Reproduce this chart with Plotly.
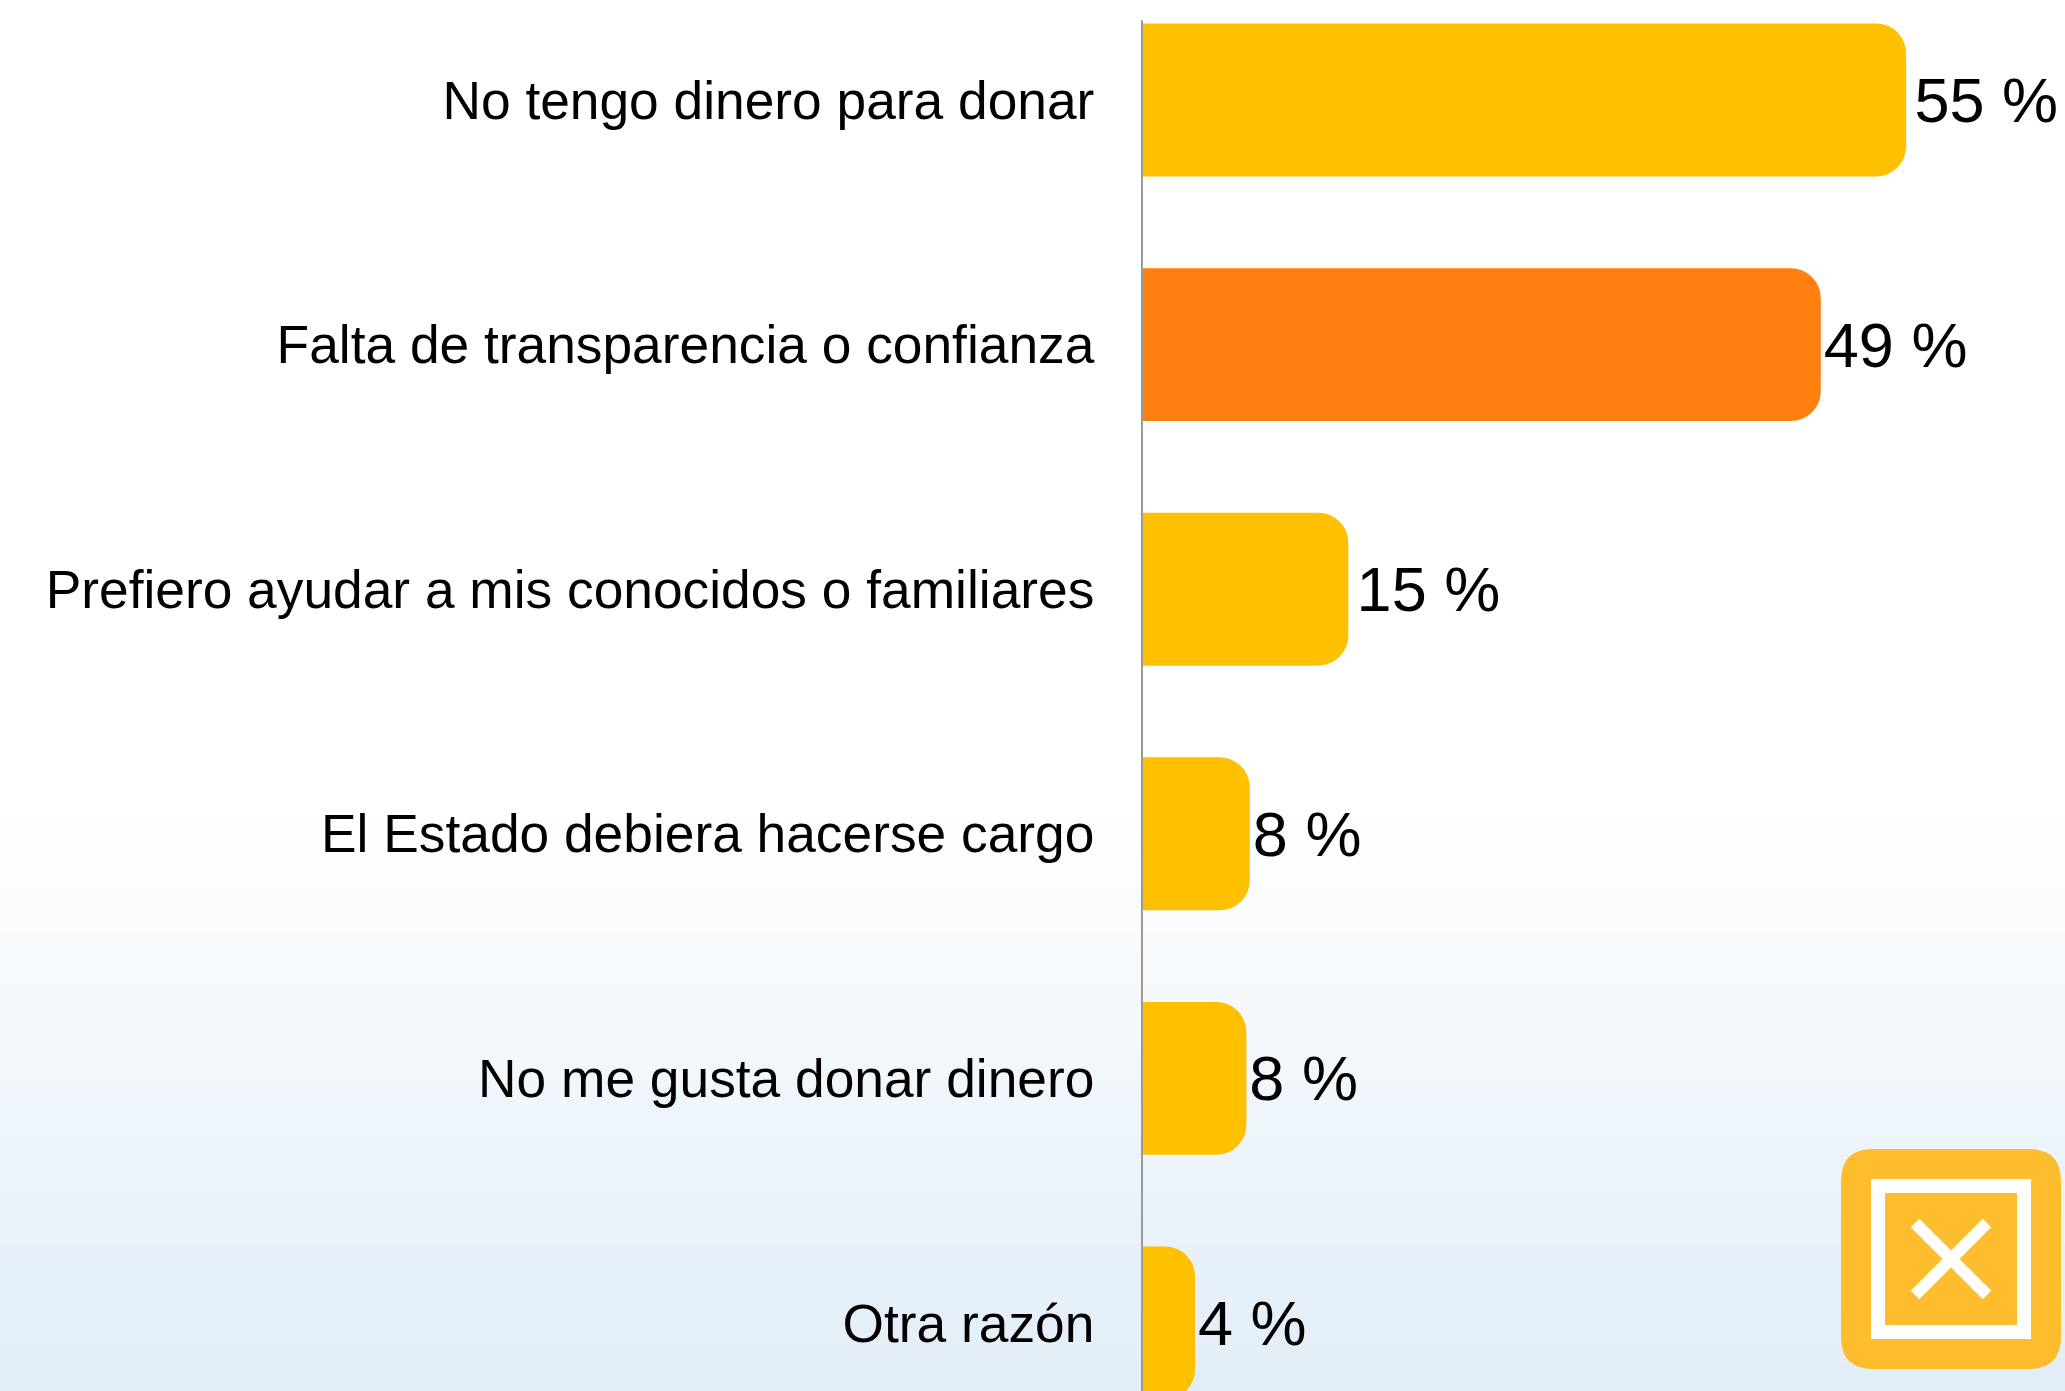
import plotly.graph_objects as go

categories = [
    "No tengo dinero para donar",
    "Falta de transparencia o confianza",
    "Prefiero ayudar a mis conocidos o familiares",
    "El Estado debiera hacerse cargo",
    "No me gusta donar dinero",
    "Otra razón",
]
values = [55.0, 48.85, 14.8, 7.7, 7.45, 3.75]
labels = ["\u200a55 %", "49 %", "\u200a15 %", "8 %", "8 %", "4 %"]
colors = ["#FFC000", "#FF7F11", "#FFC000", "#FFC000", "#FFC000", "#FFC000"]

W, H = 2065, 1391
LEFT, TOP = 1143, 20


def px(x):
    return (x - LEFT) / (W - LEFT)


def py(y):
    return 1 - (y - TOP) / (H - TOP)


shapes = []
# background gradient, drawn as thin bands behind the plot
start, step = 800, 6
for y in range(start, H, step):
    f = (y - start) / (H - start)
    c = (round(255 - 30 * f), round(255 - 18 * f), round(255 - 8 * f))
    shapes.append(dict(type="rect", xref="paper", yref="paper", layer="below",
                       x0=px(0), x1=px(W), y0=py(y + step), y1=py(y),
                       fillcolor=f"rgb{c}", line_width=0))

# logo in the lower right corner
ICON = "#FDBD2C"
x0, x1, y0, y1, r = 1841, 2061, 1149, 1369, 34
k = 0.3 * r
path = (
    f"M {px(x0 + r)},{py(y0)} L {px(x1 - r)},{py(y0)} "
    f"C {px(x1 - k)},{py(y0)} {px(x1)},{py(y0 + k)} {px(x1)},{py(y0 + r)} "
    f"L {px(x1)},{py(y1 - r)} "
    f"C {px(x1)},{py(y1 - k)} {px(x1 - k)},{py(y1)} {px(x1 - r)},{py(y1)} "
    f"L {px(x0 + r)},{py(y1)} "
    f"C {px(x0 + k)},{py(y1)} {px(x0)},{py(y1 - k)} {px(x0)},{py(y1 - r)} "
    f"L {px(x0)},{py(y0 + r)} "
    f"C {px(x0)},{py(y0 + k)} {px(x0 + k)},{py(y0)} {px(x0 + r)},{py(y0)} Z"
)
shapes.append(dict(type="path", xref="paper", yref="paper", layer="above",
                   path=path, fillcolor=ICON, line_width=0))
shapes.append(dict(type="rect", xref="paper", yref="paper", layer="above",
                   x0=px(1878), x1=px(2024), y0=py(1332), y1=py(1186),
                   fillcolor=ICON, line=dict(color="white", width=14)))
for a, b, c, d in [(1915, 1223, 1987, 1295), (1987, 1223, 1915, 1295)]:
    shapes.append(dict(type="line", xref="paper", yref="paper", layer="above",
                       x0=px(a), y0=py(b), x1=px(c), y1=py(d),
                       line=dict(color="white", width=12)))

fig = go.Figure(
    go.Bar(
        y=categories,
        x=values,
        orientation="h",
        width=0.625,
        text=labels,
        textposition="outside",
        constraintext="none",
        cliponaxis=False,
        textfont=dict(family="Liberation Sans", size=63, color="black"),
        marker=dict(color=colors, cornerradius=30, line_width=0),
        hoverinfo="skip",
    )
)

fig.update_layout(
    width=W,
    height=H,
    margin=dict(l=LEFT, r=0, t=TOP, b=0, pad=0),
    paper_bgcolor="white",
    plot_bgcolor="rgba(0,0,0,0)",
    showlegend=False,
    shapes=shapes,
    font=dict(family="Liberation Sans", color="black"),
)
fig.update_xaxes(range=[0, 66.45], visible=False, showgrid=False, zeroline=False)
fig.update_yaxes(
    categoryorder="array",
    categoryarray=categories,
    range=[5.278, -0.327],
    showgrid=False,
    zeroline=False,
    showline=True,
    linecolor="#9a9a9a",
    linewidth=2,
    ticks="",
    ticklabelstandoff=36,
    tickfont=dict(family="Liberation Sans", size=53.3, color="black"),
)

fig.write_html(
    "out.html",
    config={"displayModeBar": False},
    post_script="document.body.style.margin='0';document.body.style.overflow='hidden';",
)
